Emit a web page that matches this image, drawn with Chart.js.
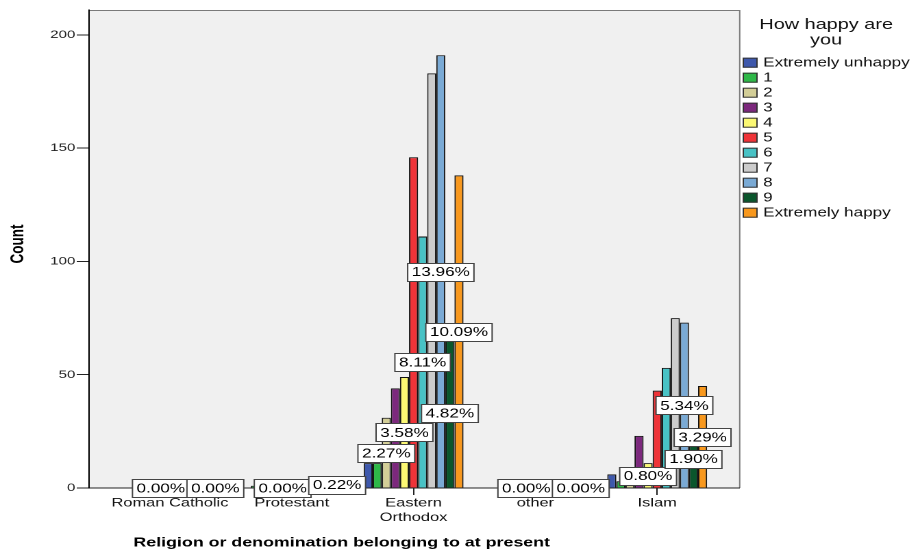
<!DOCTYPE html>
<html>
<head>
<meta charset="utf-8">
<script src="https://cdn.jsdelivr.net/npm/chart.js@4.4.1/dist/chart.umd.min.js"></script>
<style>
  html, body { margin: 0; padding: 0; background: #fff; overflow: hidden; }
  #wrap { width: 918px; height: 551px; overflow: hidden; }
  /* the reference picture is stretched sideways, so the canvas is too */
  #grafico { transform: scaleX(1.3701); transform-origin: 0 0; }
</style>
</head>
<body>
<div id="wrap"><canvas id="grafico" width="670" height="551"></canvas></div>
<script>
const religiones = ['Roman Catholic', 'Protestant', ['Eastern', 'Orthodox'], 'other', 'Islam'];
const niveles = ['Extremely unhappy', '1', '2', '3', '4', '5', '6', '7', '8', '9', 'Extremely happy'];
const colores = ['#3E58AC', '#2EB848', '#D3CE97', '#7C287D', '#FBF873', '#EF3338',
                 '#48C2C5', '#CCCCCC', '#7AAAD5', '#0A562C', '#F8981D'];

// counts: Roman Catholic, Protestant, Eastern Orthodox, other, Islam
const nivel0  = [0, 0, 11, 0, 6];
const nivel1  = [0, 1, 11, 0, 3];
const nivel2  = [0, 0, 31, 0, 2];
const nivel3  = [0, 0, 44, 0, 23];
const nivel4  = [0, 0, 49, 0, 11];
const nivel5  = [0, 0, 146, 0, 43];
const nivel6  = [0, 0, 111, 0, 53];
const nivel7  = [0, 0, 183, 0, 75];
const nivel8  = [0, 0, 191, 0, 73];
const nivel9  = [0, 0, 66, 0, 26];
const nivel10 = [0, 3, 138, 0, 45];
const conteos = [nivel0, nivel1, nivel2, nivel3, nivel4, nivel5, nivel6, nivel7, nivel8, nivel9, nivel10];

const yTicks = [0, 50, 100, 150, 200];
const totalN = 1368; // base of the percentage labels
// bars that carry a label: [religion, level]
const etiquetas = [[0, 4], [0, 10], [1, 4], [1, 10],
                   [2, 2], [2, 4], [2, 6], [2, 8], [2, 9], [2, 10],
                   [3, 4], [3, 10], [4, 4], [4, 8], [4, 9], [4, 10]];

const fuente = '"Liberation Sans", Arial, sans-serif';

const fondo = {
  id: 'fondo',
  beforeDraw(chart) {
    const { ctx, chartArea: a } = chart;
    ctx.save();
    ctx.fillStyle = '#F0F0F0';
    ctx.fillRect(a.left, a.top, a.right - a.left, a.bottom - a.top);
    ctx.strokeStyle = '#7a7a7a';
    ctx.lineWidth = 1;
    ctx.beginPath();
    ctx.moveTo(a.left, a.top + 0.5);
    ctx.lineTo(a.right + 0.5, a.top + 0.5);
    ctx.lineTo(a.right + 0.5, a.bottom);
    ctx.stroke();
    ctx.restore();
  }
};

const rotulos = {
  id: 'rotulos',
  afterDatasetsDraw(chart) {
    const ctx = chart.ctx, y = chart.scales.y;
    ctx.save();
    ctx.font = '12.5px ' + fuente;
    ctx.textAlign = 'center';
    ctx.textBaseline = 'middle';
    ctx.lineWidth = 1;
    etiquetas.forEach(([c, s]) => {
      const v = conteos[s][c];
      const bar = chart.getDatasetMeta(s).data[c];
      const txt = (v / totalN * 100).toFixed(2) + '%';
      const w = ctx.measureText(txt).width + 6, h = 18;
      const cy = y.getPixelForValue(v / 2);
      const x0 = bar.x - w / 2, y0 = Math.round(cy - h / 2) + 0.5;
      ctx.fillStyle = '#fff';
      ctx.fillRect(x0, y0, w, h);
      ctx.strokeStyle = '#444';
      ctx.strokeRect(x0, y0, w, h);
      ctx.fillStyle = '#000';
      ctx.fillText(txt, bar.x, cy + 1);
    });
    ctx.restore();
  }
};

const leyendaYTitulos = {
  id: 'leyendaYTitulos',
  afterDraw(chart) {
    const ctx = chart.ctx;
    ctx.save();
    ctx.fillStyle = '#000';
    ctx.textBaseline = 'middle';
    // axis titles
    ctx.font = 'bold 13px ' + fuente;
    ctx.textAlign = 'center';
    ctx.fillText('Religion or denomination belonging to at present', 249.4, 543);
    ctx.save();
    ctx.translate(13.4, 244);
    ctx.rotate(-Math.PI / 2);
    ctx.font = 'bold 13.5px ' + fuente;
    ctx.fillText('Count', 0, 0);
    ctx.restore();
    // legend
    ctx.font = '14.5px ' + fuente;
    ctx.fillStyle = '#111';
    ctx.fillText('How happy are', 603, 25);
    ctx.fillText('you', 603, 40.7);
    ctx.textAlign = 'left';
    ctx.font = '12.5px ' + fuente;
    chart.data.datasets.forEach((ds, i) => {
      const cy = 62.7 + 15 * i;
      ctx.fillStyle = ds.backgroundColor;
      ctx.fillRect(542, cy - 5, 11, 10);
      ctx.strokeStyle = '#333';
      ctx.strokeRect(542.5, cy - 4.5, 10, 9);
      ctx.fillStyle = '#111';
      ctx.fillText(ds.label, 557, cy + 0.5);
    });
    ctx.restore();
  }
};

new Chart(document.getElementById('grafico'), {
  type: 'bar',
  data: {
    datasets: niveles.map((n, i) => ({
      label: n,
      data: conteos[i].map((v, j) => ({ x: j, y: v })),
      backgroundColor: colores[i],
      borderColor: '#111',
      borderWidth: 1,
      categoryPercentage: 0.82,
      barPercentage: 1
    }))
  },
  options: {
    responsive: false,
    animation: false,
    devicePixelRatio: 2,
    layout: { padding: { top: 10, right: 130.6, left: 0, bottom: 0 } },
    plugins: { legend: { display: false }, tooltip: { enabled: false } },
    scales: {
      x: {
        type: 'linear',
        offset: false,
        min: -0.664,
        max: 4.672,
        afterFit: a => { a.height = 63; },
        afterBuildTicks: a => { a.ticks = religiones.map((r, i) => ({ value: i })); },
        grid: { offset: false, drawOnChartArea: false, tickLength: 7, color: '#222' },
        border: { color: '#222' },
        ticks: {
          autoSkip: false, maxRotation: 0, padding: 1, color: '#111',
          font: { size: 12, family: fuente },
          callback: v => religiones[v]
        }
      },
      y: {
        min: 0,
        max: 211,
        afterFit: a => { a.width = 65; },
        afterBuildTicks: a => { a.ticks = yTicks.map(v => ({ value: v })); },
        grid: { drawOnChartArea: false, tickLength: 9, color: '#222' },
        border: { color: '#000' },
        ticks: { padding: 1, color: '#222', font: { size: 11, family: fuente } }
      }
    }
  },
  plugins: [fondo, rotulos, leyendaYTitulos]
});
</script>
</body>
</html>
